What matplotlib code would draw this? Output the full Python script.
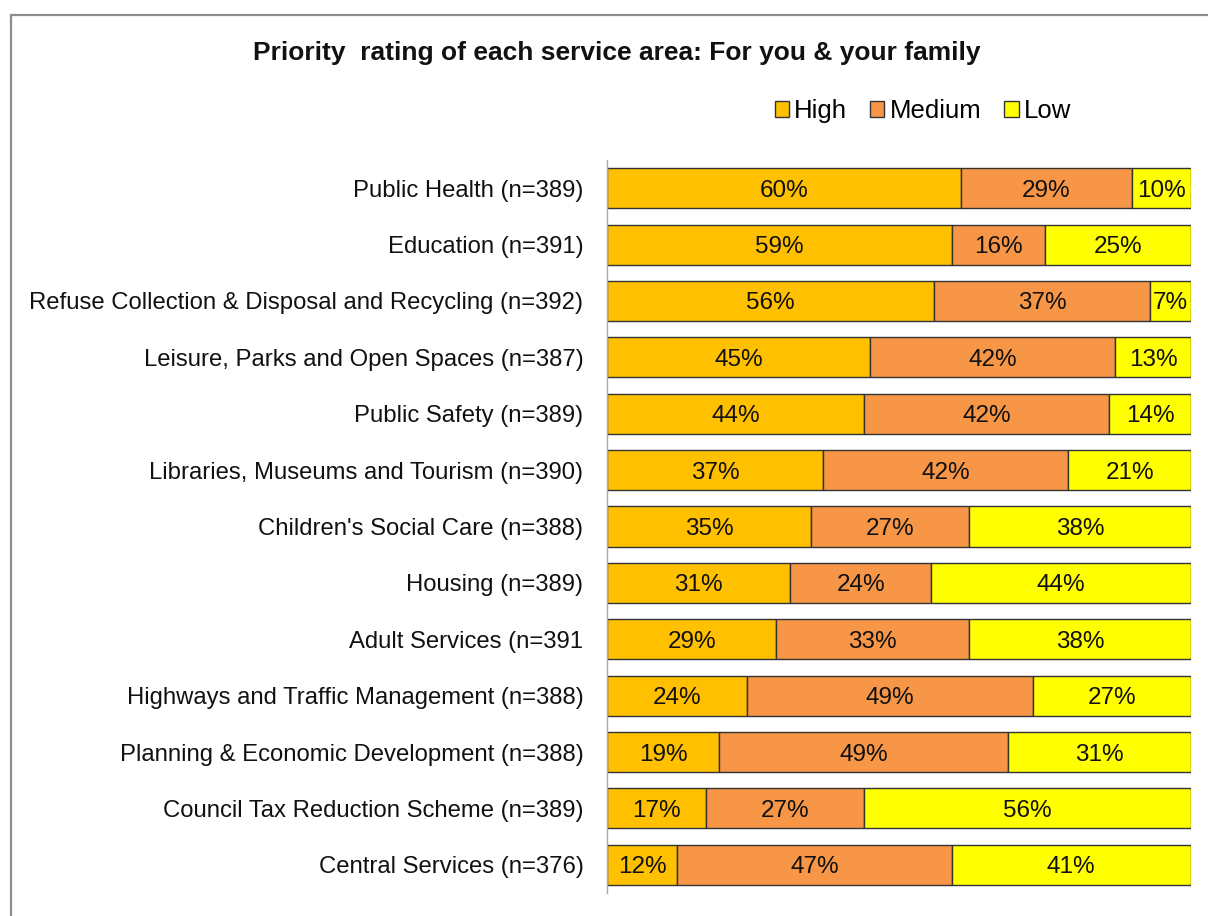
import matplotlib
matplotlib.use("Agg")
import matplotlib.pyplot as plt
from matplotlib.patches import Rectangle
import numpy as np

plt.rcParams['font.family'] = ['Liberation Sans', 'DejaVu Sans']

categories = [
    "Public Health (n=389)",
    "Education (n=391)",
    "Refuse Collection & Disposal and Recycling (n=392)",
    "Leisure, Parks and Open Spaces (n=387)",
    "Public Safety (n=389)",
    "Libraries, Museums and Tourism (n=390)",
    "Children's Social Care (n=388)",
    "Housing (n=389)",
    "Adult Services (n=391",
    "Highways and Traffic Management (n=388)",
    "Planning & Economic Development (n=388)",
    "Council Tax Reduction Scheme (n=389)",
    "Central Services (n=376)",
]
high = [60, 59, 56, 45, 44, 37, 35, 31, 29, 24, 19, 17, 12]
medium = [29, 16, 37, 42, 42, 42, 27, 24, 33, 49, 49, 27, 47]
low = [10, 25, 7, 13, 14, 21, 38, 44, 38, 27, 31, 56, 41]
series_names = ["High", "Medium", "Low"]
colors = ["#FFC000", "#F79646", "#FFFF00"]

fig = plt.figure(figsize=(12.08, 9.16), dpi=100)
ax = fig.add_axes([607/1208, 1-893/916, (1191-607)/1208, (893-160)/916])

data = np.array([high, medium, low], dtype=float)
totals = data.sum(axis=0)
frac = data / totals * 100
y = np.arange(len(categories))
left = np.zeros(len(categories))
for i, name in enumerate(series_names):
    bars = ax.barh(y, frac[i], left=left, height=0.71, color=colors[i],
                   edgecolor="#333333", linewidth=1.0, label=name)
    for j, b in enumerate(bars):
        ax.text(left[j] + frac[i][j]/2, y[j], f"{int(data[i][j])}%",
                ha="center", va="center_baseline", fontsize=17.5, color="#111111")
    left += frac[i]

ax.set_xlim(0, 100)
ax.set_ylim(len(categories)-0.5, -0.5)
ax.set_yticks(y)
ax.set_yticklabels(categories, fontsize=17.2, color="#111111")
for t in ax.get_yticklabels():
    t.set_verticalalignment("center_baseline")
ax.tick_params(axis="y", length=0, pad=17)
ax.set_xticks([])
for s in ["top", "right", "bottom"]:
    ax.spines[s].set_visible(False)
ax.spines["left"].set_color("#aaaaaa")
ax.spines["left"].set_linewidth(1.0)

fig.text(616.5/1208, 1-53/916, "Priority  rating of each service area: For you & your family",
         ha="center", va="center", fontsize=19, fontweight="bold", color="#111111")

fig.legend(loc="center", bbox_to_anchor=(923/1208, 1-111/916), ncol=3, frameon=False,
           fontsize=18.5, handlelength=0.55, handleheight=0.55, handletextpad=0.2,
           columnspacing=0.9, borderpad=0)

fig.patches.append(Rectangle((11/1208, -0.1), 1.2, 1.1 - 15/916, transform=fig.transFigure,
                             fill=False, edgecolor="#8c8c8c", linewidth=1.6))

fig.savefig("out.png", dpi=100, facecolor="white")
